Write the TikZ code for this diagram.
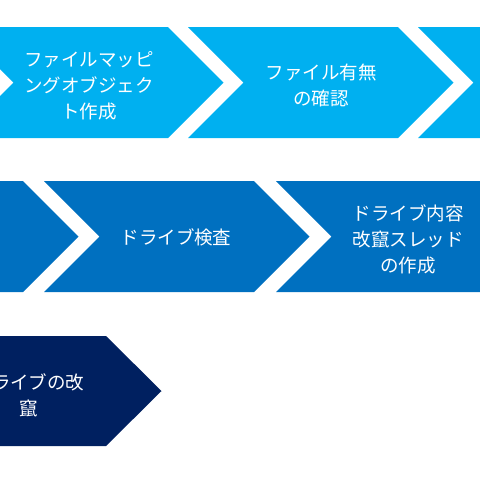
\documentclass[tikz,border=0pt]{standalone}
\usepackage{fontspec}
\newfontfamily\jpfont{Noto Sans CJK JP}
\definecolor{rowone}{HTML}{00B0F0}
\definecolor{rowtwo}{HTML}{0070C0}
\definecolor{rowthree}{HTML}{002060}
\tikzset{
  lbl/.style={text=white, align=center, inner sep=0pt,
    font=\jpfont\fontsize{18.5}{26}\selectfont},
}
% chevron: #1 colour, #2 top-left x, #3 top y (positive down), #4 bottom y
\newcommand{\chevshape}[4]{%
  \fill[#1] (#2,-#3) -- ({#2+210},-#3) -- ({#2+265.5},{-(#3+#4)/2}) -- ({#2+210},-#4)
    -- (#2,-#4) -- ({#2+55.5},{-(#3+#4)/2}) -- cycle;}
\begin{document}
\begin{tikzpicture}[x=1pt,y=1pt]
\useasboundingbox (0,0) rectangle (480,-480);
\clip (0,0) rectangle (480,-480);
% row 1
\chevshape{rowone}{-42}{27}{138}
\chevshape{rowone}{188}{27}{138}
\chevshape{rowone}{418}{27}{138}
% row 2
\chevshape{rowtwo}{-187}{181}{292}
\chevshape{rowtwo}{44}{181}{292}
\chevshape{rowtwo}{276}{181}{292}
% row 3
\chevshape{rowthree}{-104}{336}{446}
% labels
\node[lbl] (a1) at (89,-86) {ファイルマッピ\\ングオブジェク\\ト作成};
\node[lbl] (a2) at (321,-85) {ファイル有無\\の確認};
\node[lbl] (b1) at (176,-237) {ドライブ検査};
\node[lbl] (b2) at (408,-239) {ドライブ内容\\改竄スレッド\\の作成};
\node[lbl] (c1) at (29,-395) {ドライブの改\\竄};
\end{tikzpicture}
\end{document}
